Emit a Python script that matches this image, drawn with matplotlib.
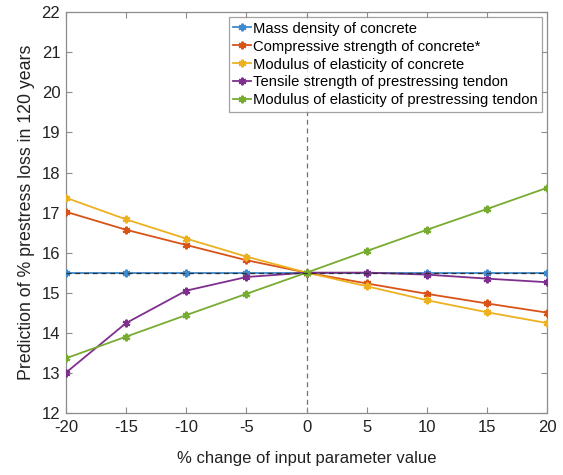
import matplotlib
matplotlib.use("Agg")
import matplotlib.pyplot as plt

plt.rcParams['font.family'] = ['Liberation Sans', 'DejaVu Sans']

change_pct = [-20, -15, -10, -5, 0, 5, 10, 15, 20]

mass_density = [15.5, 15.5, 15.5, 15.5, 15.5, 15.5, 15.5, 15.5, 15.5]
compressive_strength = [17.02, 16.57, 16.19, 15.81, 15.5, 15.23, 14.97, 14.73, 14.50]
modulus_concrete = [17.37, 16.83, 16.35, 15.90, 15.5, 15.16, 14.81, 14.51, 14.24]
tensile_tendon = [13.00, 14.24, 15.05, 15.39, 15.5, 15.5, 15.45, 15.35, 15.26]
modulus_tendon = [13.36, 13.90, 14.44, 14.97, 15.5, 16.04, 16.57, 17.09, 17.62]

series_labels = [
    "Mass density of concrete",
    "Compressive strength of concrete*",
    "Modulus of elasticity of concrete",
    "Tensile strength of prestressing tendon",
    "Modulus of elasticity of prestressing tendon",
]
series_colors = ["#3d8ad0", "#d95319", "#edb120", "#7e2f8e", "#77ac30"]

baseline_value = 15.5

x_ticks = [-20, -15, -10, -5, 0, 5, 10, 15, 20]
y_ticks = list(range(12, 23))

fig = plt.figure(figsize=(5.63, 4.75), dpi=100)
ax = fig.add_axes([0.117, 0.131, 0.855, 0.843])

# reference lines through the baseline point
ax.axvline(0, color="#707070", linestyle=(0, (4, 3)), linewidth=0.9, zorder=1)

all_series = [mass_density, compressive_strength, modulus_concrete,
              tensile_tendon, modulus_tendon]
for values, label, color in zip(all_series, series_labels, series_colors):
    ax.plot(change_pct, values, color=color, linewidth=1.3, marker=(6, 2, 0),
            markersize=5.5, markeredgewidth=1.5, label=label, zorder=3)

ax.axhline(baseline_value, color="#303030", linestyle=(0, (4, 3)),
           linewidth=0.9, zorder=4)

ax.set_xlim(-20, 20)
ax.set_ylim(12, 22)
ax.set_xticks(x_ticks)
ax.set_yticks(y_ticks)
ax.set_xticklabels([str(v) for v in x_ticks])

for side in ax.spines.values():
    side.set_color("#8c8c8c")
    side.set_linewidth(0.9)
ax.tick_params(direction="in", length=4, width=0.8, color="#8c8c8c",
               labelsize=12, labelcolor="#222222", top=True, right=True)
ax.tick_params(axis="x", pad=5)
ax.tick_params(axis="y", pad=4)

ax.set_xlabel("% change of input parameter value", fontsize=12,
              color="#222222", labelpad=12)
ax.set_ylabel("Prediction of % prestress loss in 120 years", fontsize=12.8,
              color="#222222", labelpad=5)

leg = ax.legend(loc="upper right", bbox_to_anchor=(0.99, 0.988),
                fontsize=10.6, frameon=True, fancybox=False, borderpad=0.3,
                labelspacing=0.27, handlelength=1.2, handletextpad=0.15,
                borderaxespad=0.0)
leg.get_frame().set_edgecolor("#8c8c8c")
leg.get_frame().set_linewidth(0.9)

fig.savefig("out.png", dpi=100)
